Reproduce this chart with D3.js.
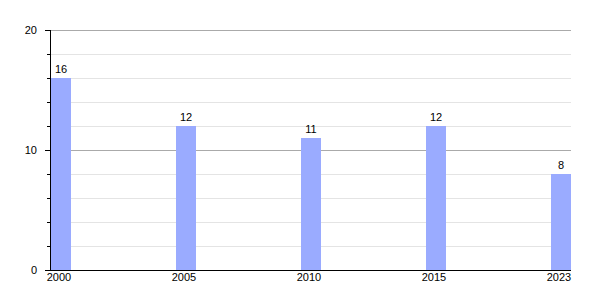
<html lang="en">
<head>
  <meta charset="UTF-8">
  <title>Bar chart</title>
  <script src="https://d3js.org/d3.v7.min.js"></script>
  <style>
    body { margin: 0; background: white; }
    text { font-family: "Liberation Sans", Arial, sans-serif; font-size: 11px; fill: #000; }
  </style>
</head>
<body>
  <svg class="chart" width="600" height="300"></svg>
  <script>
    const years = ['2000', '2005', '2010', '2015', '2023'];
    const values = [16, 12, 11, 12, 8];
    const majorTicks = [0, 10, 20];
    const minorTicks = [2, 4, 6, 8, 12, 14, 16, 18];

    const svg = d3.select('svg.chart');
    const plotLeft = 50, plotRight = 571, plotTop = 30, plotBottom = 270;

    const x = d3.scaleBand().domain(years).range([plotLeft + 1, plotRight]).paddingInner(0.84).paddingOuter(0);
    const y = d3.scaleLinear().domain([0, 20]).range([plotBottom, plotTop]);

    // grid
    svg.append('g').selectAll('line').data(minorTicks).join('line')
      .attr('x1', plotLeft).attr('x2', plotRight)
      .attr('y1', d => Math.round(y(d)) + 0.5).attr('y2', d => Math.round(y(d)) + 0.5)
      .attr('stroke', '#e4e4e4');
    svg.append('g').selectAll('line').data(majorTicks.filter(d => d > 0)).join('line')
      .attr('x1', plotLeft).attr('x2', plotRight)
      .attr('y1', d => Math.round(y(d)) + 0.5).attr('y2', d => Math.round(y(d)) + 0.5)
      .attr('stroke', '#aaaaaa');

    // bars
    svg.append('g').selectAll('rect').data(values).join('rect')
      .attr('x', (d, i) => x(years[i]))
      .attr('width', x.bandwidth())
      .attr('y', d => y(d))
      .attr('height', d => plotBottom - y(d))
      .attr('fill', '#9aabff');

    svg.append('g').selectAll('text').data(values).join('text')
      .attr('x', (d, i) => x(years[i]) + x.bandwidth() / 2)
      .attr('y', d => y(d) - 5)
      .attr('text-anchor', 'middle')
      .text(d => d);

    // y axis
    const yAxis = svg.append('g');
    yAxis.append('line').attr('x1', plotLeft + 0.5).attr('x2', plotLeft + 0.5).attr('y1', plotTop).attr('y2', plotBottom)
      .attr('stroke', '#000');
    yAxis.selectAll('line.minor').data(minorTicks).join('line').attr('class', 'minor')
      .attr('x1', plotLeft - 3).attr('x2', plotLeft)
      .attr('y1', d => Math.round(y(d)) + 0.5).attr('y2', d => Math.round(y(d)) + 0.5)
      .attr('stroke', '#000');
    yAxis.selectAll('line.major').data(majorTicks).join('line').attr('class', 'major')
      .attr('x1', plotLeft - 5).attr('x2', plotLeft)
      .attr('y1', d => Math.round(y(d)) + 0.5).attr('y2', d => Math.round(y(d)) + 0.5)
      .attr('stroke', '#000');
    yAxis.selectAll('text').data(majorTicks).join('text')
      .attr('x', plotLeft - 13).attr('y', d => y(d) + 4)
      .attr('text-anchor', 'end')
      .text(d => d);

    // x axis
    svg.append('line').attr('x1', plotLeft).attr('x2', plotRight)
      .attr('y1', plotBottom + 0.5).attr('y2', plotBottom + 0.5).attr('stroke', '#000');
    svg.append('g').selectAll('text').data(years).join('text')
      .attr('x', d => x(d) + x.bandwidth() / 2 - 2)
      .attr('y', plotBottom + 11)
      .attr('text-anchor', 'middle')
      .text(d => d);
  </script>
</body>
</html>
